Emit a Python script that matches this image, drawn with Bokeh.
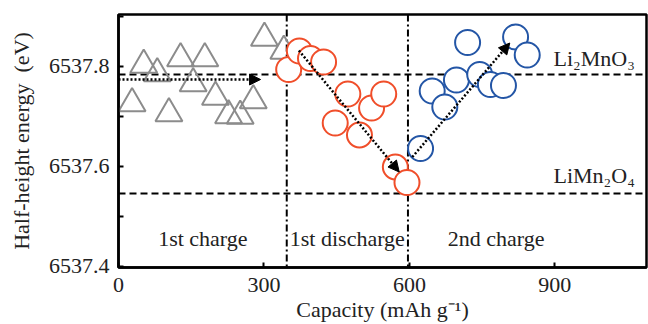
from bokeh.plotting import figure
from bokeh.models import (ColumnDataSource, Range1d, FixedTicker, Span, Arrow,
                          NormalHead, PrintfTickFormatter)
from bokeh.core.properties import value
from bokeh.embed import file_html
from bokeh.resources import INLINE

# ---- data ----
charge1_cap = [28, 52, 80, 104, 128, 154, 178, 200, 227, 251, 278, 301, 341]
charge1_e = [6537.725, 6537.802, 6537.785, 6537.705, 6537.815, 6537.765, 6537.815,
             6537.738, 6537.701, 6537.700, 6537.731, 6537.856, 6537.830]

discharge1_cap = [351, 373, 396, 423, 447, 473, 497, 522, 547, 571, 595]
discharge1_e = [6537.793, 6537.830, 6537.815, 6537.808, 6537.686, 6537.744,
                6537.662, 6537.716, 6537.744, 6537.598, 6537.567]

charge2_cap = [623, 647, 673, 697, 720, 745, 767, 794, 819, 843]
charge2_e = [6537.635, 6537.750, 6537.718, 6537.772, 6537.847, 6537.783,
             6537.763, 6537.761, 6537.858, 6537.822]

phase_boundaries = [347, 597]
reference_levels = [6537.783, 6537.545]   # Li2MnO3, LiMn2O4

arrow_x0 = [0, 372, 606]
arrow_y0 = [6537.773, 6537.831, 6537.618]
arrow_x1 = [293, 579, 807]
arrow_y1 = [6537.773, 6537.588, 6537.846]

phase_labels = ["1st charge", "1st discharge", "2nd charge"]
phase_label_x = [174, 472, 779]
phase_label_y = [6537.456, 6537.456, 6537.456]

compound_labels = ["Li\u2082MnO\u2083", "LiMn\u2082O\u2084"]
compound_label_x = [981, 981]
compound_label_y = [6537.815, 6537.582]

x_ticks = [0, 300, 600, 900]
y_ticks = [6537.4, 6537.6, 6537.8]
y_minor_ticks = [6537.5, 6537.7, 6537.9]

FONT = "'Liberation Serif', 'Times New Roman', Times, serif"

p = figure(width=648, height=324, output_backend="svg", toolbar_location=None,
           x_range=Range1d(0, 1089), y_range=Range1d(6537.397, 6537.903),
           min_border_left=118, min_border_right=2, min_border_top=14,
           min_border_bottom=57)
p.background_fill_color = "white"
p.border_fill_color = "white"
p.outline_line_color = "black"
p.outline_line_width = 2.5
p.xgrid.visible = False
p.ygrid.visible = False

# reference lines
for loc in phase_boundaries:
    p.add_layout(Span(location=loc, dimension="height", line_color="black",
                      line_width=2, line_dash="7 3 2 3", level="underlay"))
for loc in reference_levels:
    p.add_layout(Span(location=loc, dimension="width", line_color="black",
                      line_width=2, line_dash="7 4", level="underlay"))

# data points
p.scatter(charge1_cap, charge1_e, marker="triangle", size=27,
          line_color="#8c8c8c", line_width=2, fill_color=None)
p.scatter(discharge1_cap, discharge1_e, marker="circle", size=25,
          line_color="#f04e2a", line_width=2, fill_color="white")
p.scatter(charge2_cap, charge2_e, marker="circle", size=25,
          line_color="#2456a6", line_width=2, fill_color="white")

# dotted arrows
asrc = ColumnDataSource(dict(x0=arrow_x0, y0=arrow_y0, x1=arrow_x1, y1=arrow_y1))
p.add_layout(Arrow(source=asrc, x_start="x0", y_start="y0", x_end="x1", y_end="y1",
                   line_color="black", line_width=2.5, line_dash="2 2",
                   end=NormalHead(size=11, fill_color="black", line_color="black",
                                  line_width=1)))

# text labels
psrc = ColumnDataSource(dict(x=phase_label_x, y=phase_label_y, t=phase_labels))
p.text(x="x", y="y", text="t", source=psrc, text_font=value(FONT),
       text_font_size="22px", text_align="center", text_baseline="alphabetic",
       text_color="#222222")
csrc = ColumnDataSource(dict(x=compound_label_x, y=compound_label_y, t=compound_labels))
p.text(x="x", y="y", text="t", source=csrc, text_font=value(FONT),
       text_font_size="22px", text_align="center", text_baseline="alphabetic",
       text_color="#222222")

# axes
for ax in (p.xaxis[0], p.yaxis[0]):
    ax.axis_line_width = 2.5
    ax.axis_line_color = "black"
    ax.major_tick_in = 5
    ax.major_tick_out = 0
    ax.minor_tick_in = 5
    ax.minor_tick_out = 0
    ax.major_tick_line_width = 2
    ax.minor_tick_line_width = 2
    ax.major_label_text_font = FONT
    ax.major_label_text_font_size = "22px"
    ax.major_label_text_color = "#222222"
    ax.axis_label_text_font = FONT
    ax.axis_label_text_font_size = "22px"
    ax.axis_label_text_font_style = "normal"
    ax.axis_label_text_color = "#222222"

p.xaxis.ticker = FixedTicker(ticks=x_ticks, minor_ticks=[])
p.yaxis.ticker = FixedTicker(ticks=y_ticks, minor_ticks=y_minor_ticks)
p.yaxis.formatter = PrintfTickFormatter(format="%.1f")
p.xaxis.major_label_standoff = 10
p.yaxis.major_label_standoff = 9
p.xaxis.axis_label = "Capacity (mAh g\u207b\u00b9)"
p.yaxis.axis_label = "Half-height energy\u00a0 (eV)"
p.xaxis.axis_label_standoff = 2
p.yaxis.axis_label_standoff = 12

open("out.html", "w").write(file_html(p, INLINE))
